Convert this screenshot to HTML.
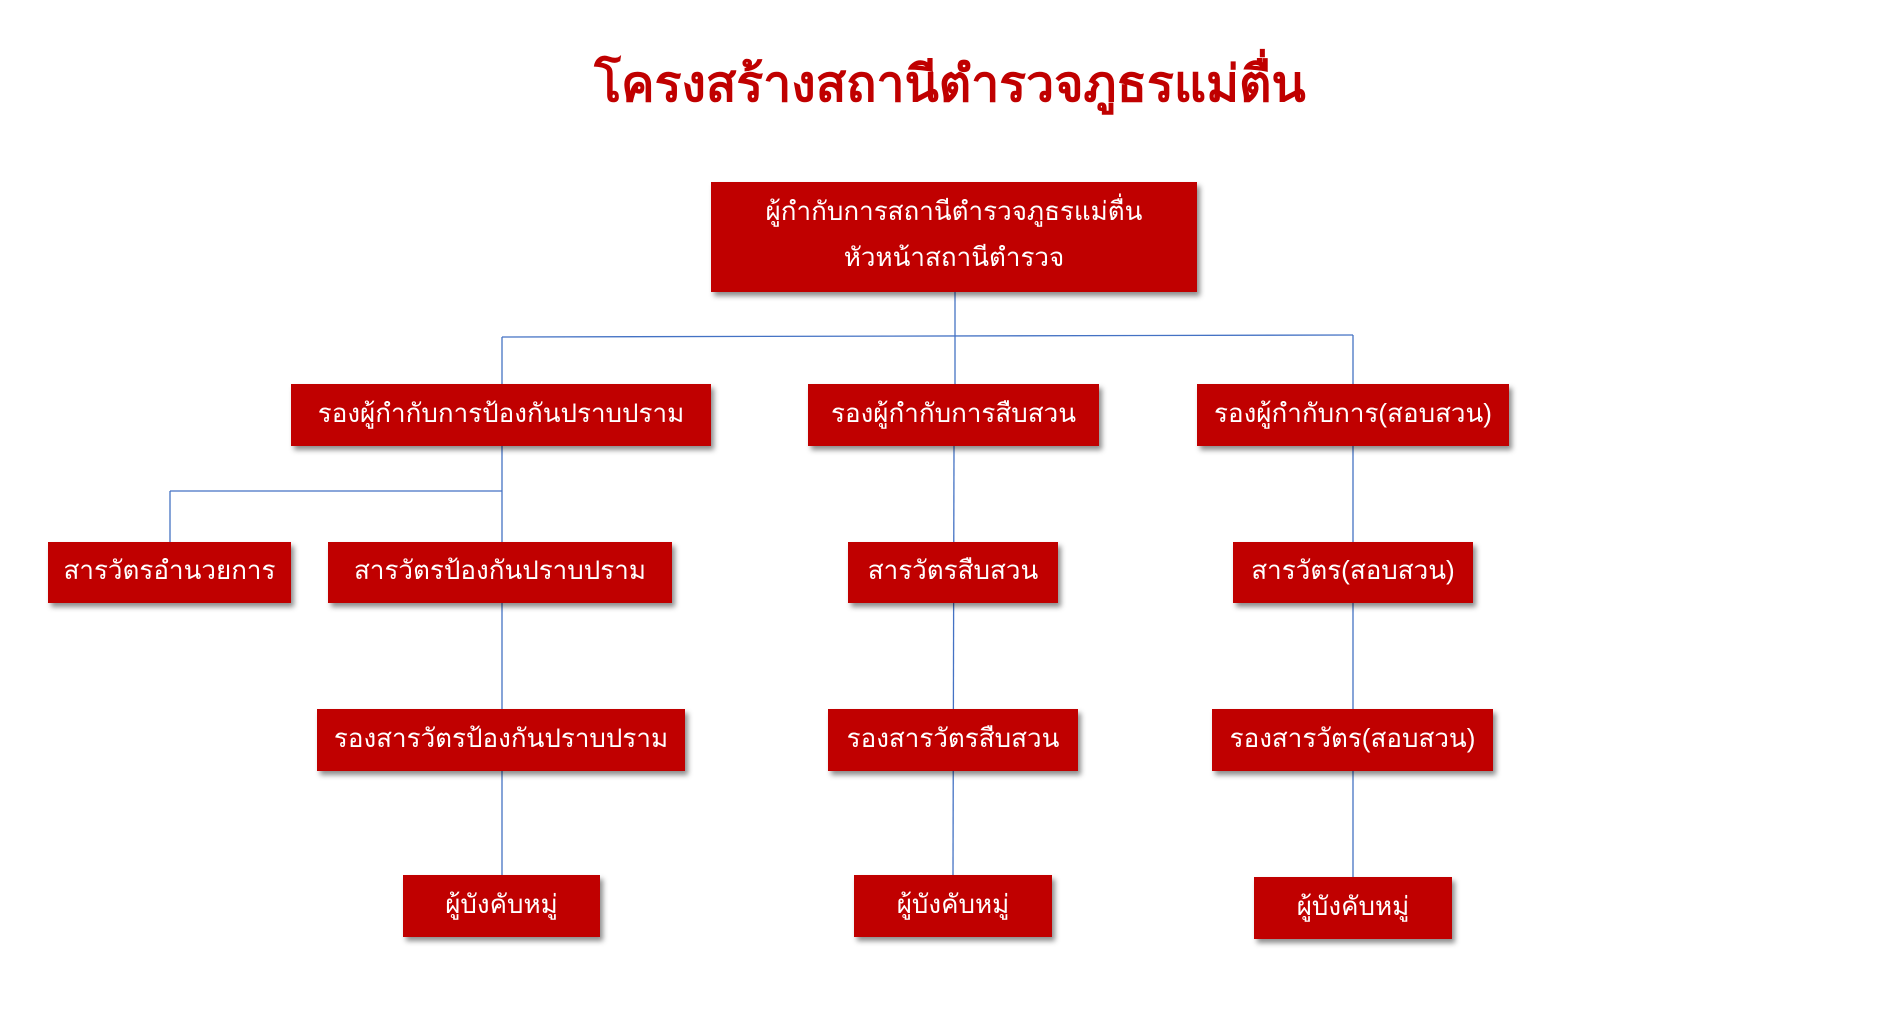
<!DOCTYPE html>
<html><head><meta charset="utf-8"><style>
body{margin:0;width:1900px;height:1009px;background:#fff;position:relative;overflow:hidden;font-family:"Liberation Sans","DejaVu Sans",sans-serif}
.t{position:absolute;left:0;width:1900px;top:44px;text-align:center;color:#c00000;font-size:50px;line-height:80px;font-weight:bold}
.b{position:absolute;background:#c00000;color:#fff;display:flex;align-items:center;justify-content:center;text-align:center;font-size:26px;box-shadow:3px 4px 5px rgba(0,0,0,.45);white-space:nowrap;padding-bottom:4px;box-sizing:border-box}
svg{position:absolute;left:0;top:0}
</style></head><body>
<div class="t">โครงสร้างสถานีตำรวจภูธรแม่ตื่น</div>
<svg width="1900" height="1009"><g stroke="#4472c4" stroke-width="1.3" fill="none">
<line x1="955" y1="292" x2="955" y2="384"/>
<line x1="502" y1="337" x2="1353" y2="335"/>
<line x1="502" y1="337" x2="502" y2="384"/>
<line x1="1353" y1="335" x2="1353" y2="384"/>
<line x1="502" y1="446" x2="502" y2="875"/>
<line x1="170" y1="491" x2="502" y2="491"/>
<line x1="170" y1="491" x2="170" y2="542"/>
<line x1="954" y1="446" x2="953" y2="875"/>
<line x1="1353" y1="446" x2="1353" y2="877"/>
</g></svg>
<div class="b" style="left:711px;top:182px;width:486px;height:110px;flex-direction:column;line-height:46px;padding-bottom:6px">ผู้กำกับการสถานีตำรวจภูธรแม่ตื่น<br>หัวหน้าสถานีตำรวจ</div>
<div class="b" style="left:291px;top:384px;width:420px;height:62px">รองผู้กำกับการป้องกันปราบปราม</div>
<div class="b" style="left:808px;top:384px;width:291px;height:62px">รองผู้กำกับการสืบสวน</div>
<div class="b" style="left:1197px;top:384px;width:312px;height:62px">รองผู้กำกับการ(สอบสวน)</div>
<div class="b" style="left:48px;top:542px;width:243px;height:61px">สารวัตรอำนวยการ</div>
<div class="b" style="left:328px;top:542px;width:344px;height:61px">สารวัตรป้องกันปราบปราม</div>
<div class="b" style="left:848px;top:542px;width:210px;height:61px">สารวัตรสืบสวน</div>
<div class="b" style="left:1233px;top:542px;width:240px;height:61px">สารวัตร(สอบสวน)</div>
<div class="b" style="left:317px;top:709px;width:368px;height:62px">รองสารวัตรป้องกันปราบปราม</div>
<div class="b" style="left:828px;top:709px;width:250px;height:62px">รองสารวัตรสืบสวน</div>
<div class="b" style="left:1212px;top:709px;width:281px;height:62px">รองสารวัตร(สอบสวน)</div>
<div class="b" style="left:403px;top:875px;width:197px;height:62px">ผู้บังคับหมู่</div>
<div class="b" style="left:854px;top:875px;width:198px;height:62px">ผู้บังคับหมู่</div>
<div class="b" style="left:1254px;top:877px;width:198px;height:62px">ผู้บังคับหมู่</div>
</body></html>
